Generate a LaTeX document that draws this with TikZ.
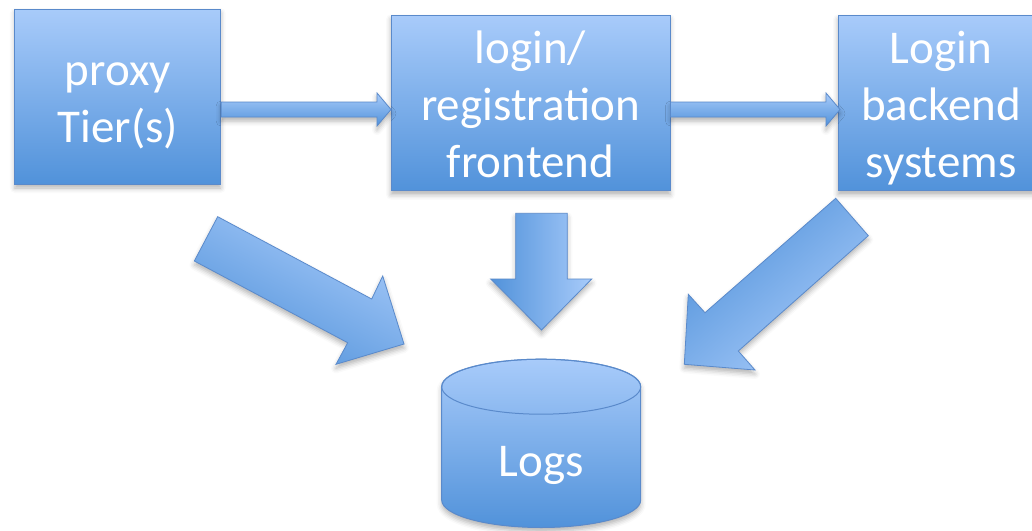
\documentclass[tikz,border=0pt]{standalone}
\usepackage{fontspec}
\setmainfont{Carlito}
\usetikzlibrary{shadows.blur}

\definecolor{fillTop}{HTML}{A8CBFA}
\definecolor{fillBot}{HTML}{5192DA}
\definecolor{edgeBlue}{HTML}{5A8ACB}

% fixed-height line so every text line sits 57pt below the previous one
\newcommand\linestrut{\rule[-11pt]{0pt}{57pt}}

\begin{document}
\begin{tikzpicture}[x=1pt,y=1pt,
  softshadow/.style={blur shadow={shadow xshift=0pt, shadow yshift=-4pt,
      shadow blur radius=5pt, shadow opacity=30}},
  tierbox/.style={draw=edgeBlue, line width=1pt, top color=fillTop,
      bottom color=fillBot, softshadow, inner sep=0pt, align=center,
      text=white, font=\fontsize{47}{57}\selectfont},
  blockarrow/.style={draw=edgeBlue, line width=0.8pt, top color=fillTop,
      bottom color=fillBot, softshadow},
  labeltext/.style={text=white, inner sep=0pt, font=\fontsize{47}{57}\selectfont},
]
\useasboundingbox (0,0) rectangle (1032,-530);

% tiers
\node[tierbox, minimum width=205.7pt, minimum height=175pt] (proxy)
  at (117.8,-96.5) {\linestrut proxy\\\linestrut Tier(s)};
\node[tierbox, minimum width=279pt, minimum height=175.5pt] (frontend)
  at (530.5,-103) {\linestrut login/\\\linestrut registration\\\linestrut frontend};
\node[tierbox, minimum width=206pt, minimum height=175.5pt] (backend)
  at (941,-103) {\linestrut Login\\\linestrut backend\\\linestrut systems};

% request flow between tiers
\path[blockarrow, shading angle=0]
  (proxy.east |- 0,-102) -- (377,-102) -- (377,-93) -- (391,-109.5)
  -- (377,-126) -- (377,-117) -- (proxy.east |- 0,-117) -- cycle;
\path[blockarrow, shading angle=0]
  (frontend.east |- 0,-102) -- (826,-102) -- (826,-93) -- (840,-109.5)
  -- (826,-126) -- (826,-117) -- (frontend.east |- 0,-117) -- cycle;

% every tier writes to the log store
\path[blockarrow, shading angle=-28]
  (217.7,-216.7) -- (371.7,-299) -- (382.7,-276) -- (404,-344)
  -- (336,-364.3) -- (347.7,-342.7) -- (194.3,-261) -- cycle;
\path[blockarrow, shading angle=-90]
  (515.7,-213.3) -- (567.3,-213.3) -- (567.3,-279) -- (591.7,-279)
  -- (541.5,-330) -- (490.7,-279) -- (515.7,-279) -- cycle;
\path[blockarrow, shading angle=-139]
  (835.7,-198.3) -- (868.3,-235.7) -- (738.3,-351) -- (755,-370)
  -- (684.3,-364.3) -- (688.3,-294.3) -- (705,-312.7) -- cycle;

% log store cylinder
\path[draw=edgeBlue, line width=1pt, top color=fillTop, bottom color=fillBot, softshadow]
  (441.7,-386.7) -- (441.7,-500)
  arc[start angle=180, end angle=360, x radius=99.5, y radius=27.5]
  -- (640.7,-386.7)
  arc[start angle=0, end angle=180, x radius=99.5, y radius=27.5] -- cycle;
\draw[edgeBlue, line width=1pt] (541.2,-386.7) ellipse [x radius=99.5, y radius=27.5];
\node[labeltext, anchor=base] (logs) at (541.2,-476.7) {Logs};
\end{tikzpicture}
\end{document}
